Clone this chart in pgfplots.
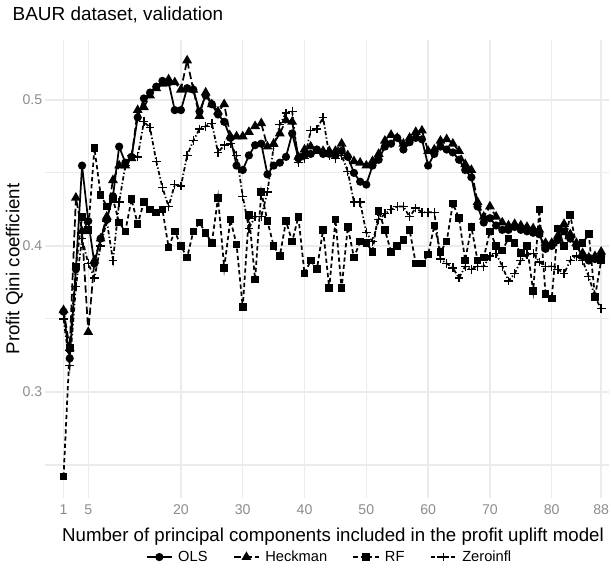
\documentclass[border=0pt]{standalone}
\usepackage{fontspec}
\setmainfont{Liberation Sans}
\usepackage{pgfplots}
\usepackage{pgfplotstable}
\pgfplotsset{compat=1.18}
\definecolor{gridc}{HTML}{EBEBEB}
\definecolor{tickc}{HTML}{8C8C8C}

\pgfplotstableread{
i ols heck rf zero
1 0.355 0.356 0.242 0.350
2 0.323 0.330 0.330 0.318
3 0.384 0.433 0.386 0.372
4 0.455 0.410 0.420 0.405
5 0.417 0.341 0.411 0.388
6 0.388 0.390 0.467 0.378
7 0.405 0.405 0.435 0.400
8 0.418 0.420 0.427 0.417
9 0.434 0.445 0.432 0.390
10 0.468 0.455 0.416 0.430
11 0.457 0.455 0.410 0.455
12 0.461 0.460 0.432 0.462
13 0.488 0.493 0.415 0.461
14 0.501 0.495 0.430 0.485
15 0.505 0.503 0.425 0.481
16 0.509 0.508 0.423 0.458
17 0.513 0.511 0.425 0.440
18 0.512 0.514 0.399 0.427
19 0.493 0.512 0.410 0.442
20 0.493 0.507 0.400 0.441
21 0.508 0.527 0.392 0.462
22 0.507 0.507 0.410 0.472
23 0.492 0.489 0.416 0.480
24 0.503 0.505 0.409 0.482
25 0.497 0.497 0.402 0.484
26 0.490 0.492 0.433 0.464
27 0.485 0.497 0.385 0.469
28 0.474 0.475 0.418 0.470
29 0.455 0.475 0.401 0.462
30 0.452 0.475 0.358 0.434
31 0.462 0.478 0.421 0.412
32 0.469 0.482 0.377 0.420
33 0.470 0.484 0.437 0.420
34 0.449 0.468 0.417 0.437
35 0.455 0.470 0.400 0.468
36 0.457 0.477 0.393 0.483
37 0.461 0.486 0.417 0.491
38 0.477 0.485 0.403 0.492
39 0.460 0.461 0.420 0.457
40 0.462 0.466 0.381 0.460
41 0.463 0.468 0.390 0.479
42 0.466 0.465 0.384 0.480
43 0.463 0.465 0.411 0.488
44 0.463 0.465 0.371 0.462
45 0.462 0.465 0.418 0.460
46 0.465 0.470 0.371 0.462
47 0.461 0.462 0.413 0.451
48 0.450 0.458 0.392 0.430
49 0.444 0.457 0.403 0.430
50 0.442 0.455 0.402 0.409
51 0.455 0.458 0.396 0.403
52 0.459 0.463 0.424 0.418
53 0.468 0.472 0.411 0.422
54 0.470 0.476 0.396 0.425
55 0.474 0.474 0.400 0.427
56 0.466 0.470 0.404 0.427
57 0.471 0.474 0.411 0.420
58 0.474 0.478 0.388 0.426
59 0.473 0.479 0.388 0.423
60 0.455 0.465 0.394 0.423
61 0.463 0.466 0.414 0.423
62 0.468 0.472 0.396 0.391
63 0.466 0.473 0.403 0.388
64 0.464 0.470 0.429 0.385
65 0.459 0.465 0.419 0.378
66 0.452 0.456 0.390 0.386
67 0.447 0.452 0.413 0.384
68 0.427 0.430 0.390 0.386
69 0.416 0.420 0.392 0.386
70 0.419 0.427 0.410 0.393
71 0.414 0.420 0.400 0.395
72 0.411 0.416 0.397 0.386
73 0.411 0.414 0.405 0.376
74 0.413 0.415 0.402 0.381
75 0.411 0.414 0.395 0.390
76 0.410 0.413 0.400 0.394
77 0.409 0.412 0.369 0.395
78 0.408 0.411 0.425 0.389
79 0.398 0.402 0.367 0.386
80 0.400 0.402 0.364 0.386
81 0.404 0.407 0.412 0.384
82 0.410 0.415 0.400 0.381
83 0.405 0.408 0.421 0.390
84 0.400 0.402 0.400 0.393
85 0.393 0.395 0.402 0.390
86 0.390 0.392 0.408 0.379
87 0.391 0.393 0.365 0.365
88 0.393 0.396 0.390 0.357
}\data

\begin{document}
\begin{tikzpicture}
\useasboundingbox (-33.75pt,-53.25pt) rectangle (424.5pt,373.5pt);
\node[anchor=west, font=\fontsize{14.2}{16}\selectfont] at (-27.75pt,362.5pt) {BAUR dataset, validation};
\begin{axis}[
  at={(0pt,0pt)}, anchor=south west,
  scale only axis, width=423pt, height=343.5pt,
  xmin=-2, xmax=89.27, ymin=0.2274, ymax=0.541,
  xtick={1,5,20,30,40,50,60,70,80,88},
  ytick={0.3,0.4,0.5},
  yticklabels={0.3,0.4,0.5},
  minor ytick={0.25,0.35,0.45},
  xmajorgrids, ymajorgrids, yminorgrids,
  major grid style={draw=gridc, line width=1.1pt},
  minor grid style={draw=gridc, line width=0.8pt},
  axis line style={draw=none},
  tick style={draw=none},
  ticklabel style={font=\fontsize{10.6}{12}\selectfont, text=tickc},
  /pgf/number format/assume math mode=true,
  xticklabel style={yshift=-1.5pt},
  yticklabel style={xshift=1.5pt},
  xlabel={Number of principal components included in the profit uplift model},
  ylabel={Profit Qini coefficient},
  label style={font=\fontsize{14}{16}\selectfont},
  xlabel style={at={(axis description cs:0.5106,-0.0852)}, anchor=center},
  ylabel style={at={(axis description cs:-0.0545,0.5)}, anchor=center},
  legend columns=4,
  legend style={draw=none, fill=none, at={(axis description cs:0.505,-0.129)}, anchor=center,
    font=\fontsize{11}{13}\selectfont,
    /tikz/every even column/.append style={column sep=17pt},
    /tikz/every odd column/.append style={column sep=2pt}},
  legend image code/.code={\draw[mark repeat=2,mark phase=2] plot coordinates {(0pt,0pt)(9.5pt,0pt)(19pt,0pt)};},
  every axis plot/.append style={black, line width=1.3pt},
  clip=false,
]
\addplot[solid, mark=*, mark size=2.4pt, mark options={solid}] table[x=i,y=ols] {\data};
\addlegendentry{OLS}
\addplot[dash pattern=on 5.5pt off 2.5pt, mark=triangle*, mark size=3pt, mark options={solid}] table[x=i,y=heck] {\data};
\addlegendentry{Heckman}
\addplot[dash pattern=on 3.2pt off 2.2pt, mark=square*, mark size=2.2pt, mark options={solid}] table[x=i,y=rf] {\data};
\addlegendentry{RF}
\addplot[dash pattern=on 3.2pt off 1.7pt on 1pt off 1.7pt, mark=+, mark size=3.3pt, mark options={solid, line width=1pt}] table[x=i,y=zero] {\data};
\addlegendentry{Zeroinfl}
\end{axis}
\end{tikzpicture}
\end{document}
